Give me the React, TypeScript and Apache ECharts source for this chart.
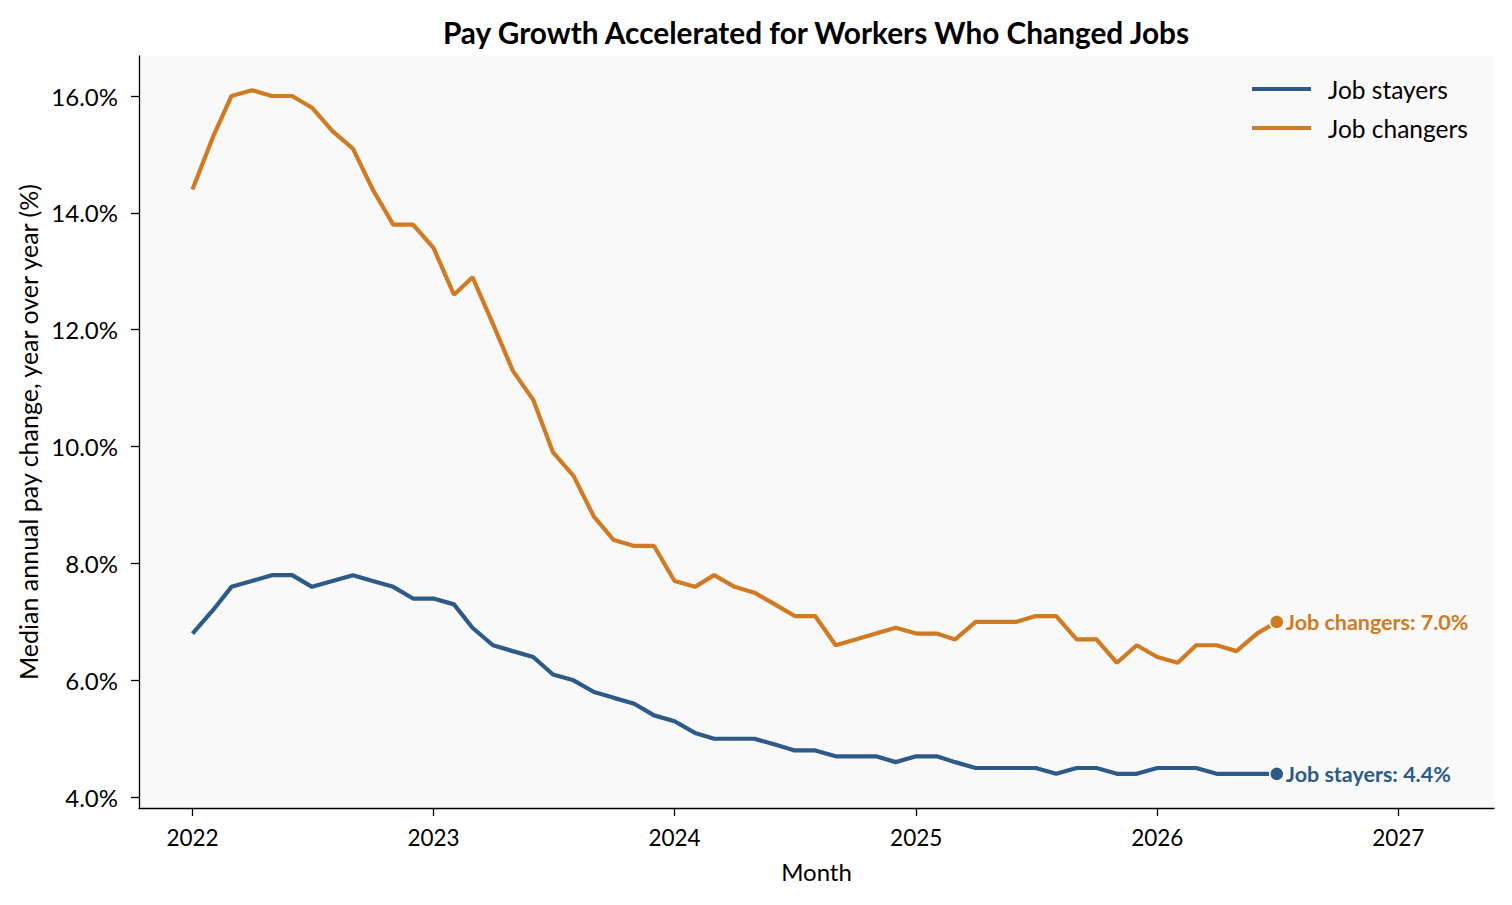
import React, { useEffect, useRef } from "react";
import * as echarts from "echarts";

const months = [
  "2022-01", "2022-02", "2022-03", "2022-04", "2022-05", "2022-06", "2022-07", "2022-08", "2022-09", "2022-10", "2022-11", "2022-12",
  "2023-01", "2023-02", "2023-03", "2023-04", "2023-05", "2023-06", "2023-07", "2023-08", "2023-09", "2023-10", "2023-11", "2023-12",
  "2024-01", "2024-02", "2024-03", "2024-04", "2024-05", "2024-06", "2024-07", "2024-08", "2024-09", "2024-10", "2024-11", "2024-12",
  "2025-01", "2025-02", "2025-03", "2025-04", "2025-05", "2025-06", "2025-07", "2025-08", "2025-09", "2025-10", "2025-11", "2025-12",
  "2026-01", "2026-02", "2026-03", "2026-04", "2026-05", "2026-06", "2026-07",
];

const jobStayers = [
  6.8, 7.2, 7.6, 7.7, 7.8, 7.8, 7.6, 7.7, 7.8, 7.7, 7.6, 7.4,
  7.4, 7.3, 6.9, 6.6, 6.5, 6.4, 6.1, 6.0, 5.8, 5.7, 5.6, 5.4,
  5.3, 5.1, 5.0, 5.0, 5.0, 4.9, 4.8, 4.8, 4.7, 4.7, 4.7, 4.6,
  4.7, 4.7, 4.6, 4.5, 4.5, 4.5, 4.5, 4.4, 4.5, 4.5, 4.4, 4.4,
  4.5, 4.5, 4.5, 4.4, 4.4, 4.4, 4.4,
];

const jobChangers = [
  14.4, 15.3, 16.0, 16.1, 16.0, 16.0, 15.8, 15.4, 15.1, 14.4, 13.8, 13.8,
  13.4, 12.6, 12.9, 12.1, 11.3, 10.8, 9.9, 9.5, 8.8, 8.4, 8.3, 8.3,
  7.7, 7.6, 7.8, 7.6, 7.5, 7.3, 7.1, 7.1, 6.6, 6.7, 6.8, 6.9,
  6.8, 6.8, 6.7, 7.0, 7.0, 7.0, 7.1, 7.1, 6.7, 6.7, 6.3, 6.6,
  6.4, 6.3, 6.6, 6.6, 6.5, 6.8, 7.0,
];

const yearTicks = ["2022-01-01", "2023-01-01", "2024-01-01", "2025-01-01", "2026-01-01", "2027-01-01"];
const yTicks = [4, 6, 8, 10, 12, 14, 16];

const BLUE = "#2e5a88";
const ORANGE = "#d07a24";
const FONT = "Lato, 'Noto Sans', sans-serif";

const ts = (d: string) => new Date(d + "T00:00:00").getTime();

function buildData(values: number[]) {
  const last = values.length - 1;
  return values.map((v, i) =>
    i === last
      ? {
          value: [ts(months[i] + "-01"), v],
          symbol: "circle",
          symbolSize: 14,
          itemStyle: { borderColor: "#ffffff", borderWidth: 1.5 },
        }
      : { value: [ts(months[i] + "-01"), v] }
  );
}

export default function App() {
  const ref = useRef<HTMLDivElement>(null);
  useEffect(() => {
    if (!ref.current) return;
    const chart = echarts.init(ref.current, null, { renderer: "svg" });
    const yearTs = yearTicks.map(ts);
    chart.setOption({
      animation: false,
      backgroundColor: "#ffffff",
      textStyle: { fontFamily: FONT },
      title: {
        text: "Pay Growth Accelerated for Workers Who Changed Jobs",
        left: 811,
        textAlign: "center",
        top: 12,
        textStyle: { fontFamily: FONT, fontWeight: "bold", fontSize: 29.8, color: "#000" },
      },
      legend: {
        orient: "vertical",
        left: 1252,
        top: 75,
        padding: 0,
        icon: "rect",
        itemWidth: 59,
        itemHeight: 4,
        itemGap: 11,
        textStyle: { fontFamily: FONT, fontSize: 24.5, color: "#000", padding: [0, 0, 0, 12], lineHeight: 28 },
        data: ["Job stayers", "Job changers"],
      },
      grid: {
        left: 139,
        right: 18,
        top: 56,
        bottom: 97,
        show: true,
        backgroundColor: "#f9f9f9",
        borderWidth: 0,
      },
      xAxis: {
        type: "value",
        min: ts("2021-10-12"),
        max: ts("2027-05-26"),
        name: "Month",
        nameLocation: "middle",
        nameGap: 51,
        nameTextStyle: { fontFamily: FONT, fontSize: 24, color: "#000" },
        axisLine: { show: true, lineStyle: { color: "#000", width: 1.3 } },
        axisTick: { show: true, length: 8, lineStyle: { color: "#000", width: 1.3 }, customValues: yearTs },
        axisLabel: {
          customValues: yearTs,
          fontFamily: FONT,
          fontSize: 22.5,
          color: "#000",
          margin: 18,
          formatter: (v: number) => String(new Date(v).getFullYear()),
        },
        splitLine: { show: false },
      },
      yAxis: {
        type: "value",
        min: 3.815,
        max: 16.685,
        name: "Median annual pay change, year over year (%)",
        nameLocation: "middle",
        nameGap: 98,
        nameTextStyle: { fontFamily: FONT, fontSize: 25, color: "#000" },
        axisLine: { show: true, lineStyle: { color: "#000", width: 1.3 } },
        axisTick: { show: true, length: 8, lineStyle: { color: "#000", width: 1.3 }, customValues: yTicks },
        axisLabel: {
          customValues: yTicks,
          fontFamily: FONT,
          fontSize: 24,
          color: "#000",
          margin: 21,
          formatter: (v: number) => v.toFixed(1) + "%",
        },
        splitLine: { show: false },
      },
      series: [
        {
          name: "Job stayers",
          type: "line",
          data: buildData(jobStayers),
          symbol: "none",
          showSymbol: true,
          showAllSymbol: true,
          color: BLUE,
          lineStyle: { color: BLUE, width: 4.2 },
          itemStyle: { color: BLUE },
          endLabel: {
            show: true,
            distance: 9,
            color: BLUE,
            fontFamily: FONT,
            fontWeight: "bold",
            fontSize: 21.5,
            formatter: (p: any) => "Job stayers: " + Number(p.value[1]).toFixed(1) + "%",
          },
          z: 3,
        },
        {
          name: "Job changers",
          type: "line",
          data: buildData(jobChangers),
          symbol: "none",
          showSymbol: true,
          showAllSymbol: true,
          color: ORANGE,
          lineStyle: { color: ORANGE, width: 4.2 },
          itemStyle: { color: ORANGE },
          endLabel: {
            show: true,
            distance: 9,
            color: ORANGE,
            fontFamily: FONT,
            fontWeight: "bold",
            fontSize: 21.5,
            formatter: (p: any) => "Job changers: " + Number(p.value[1]).toFixed(1) + "%",
          },
          z: 3,
        },
      ],
    });
    return () => chart.dispose();
  }, []);
  return (
    <div
      ref={ref}
      style={{ position: "fixed", left: 0, top: 0, width: 1512, height: 905 }}
    />
  );
}
